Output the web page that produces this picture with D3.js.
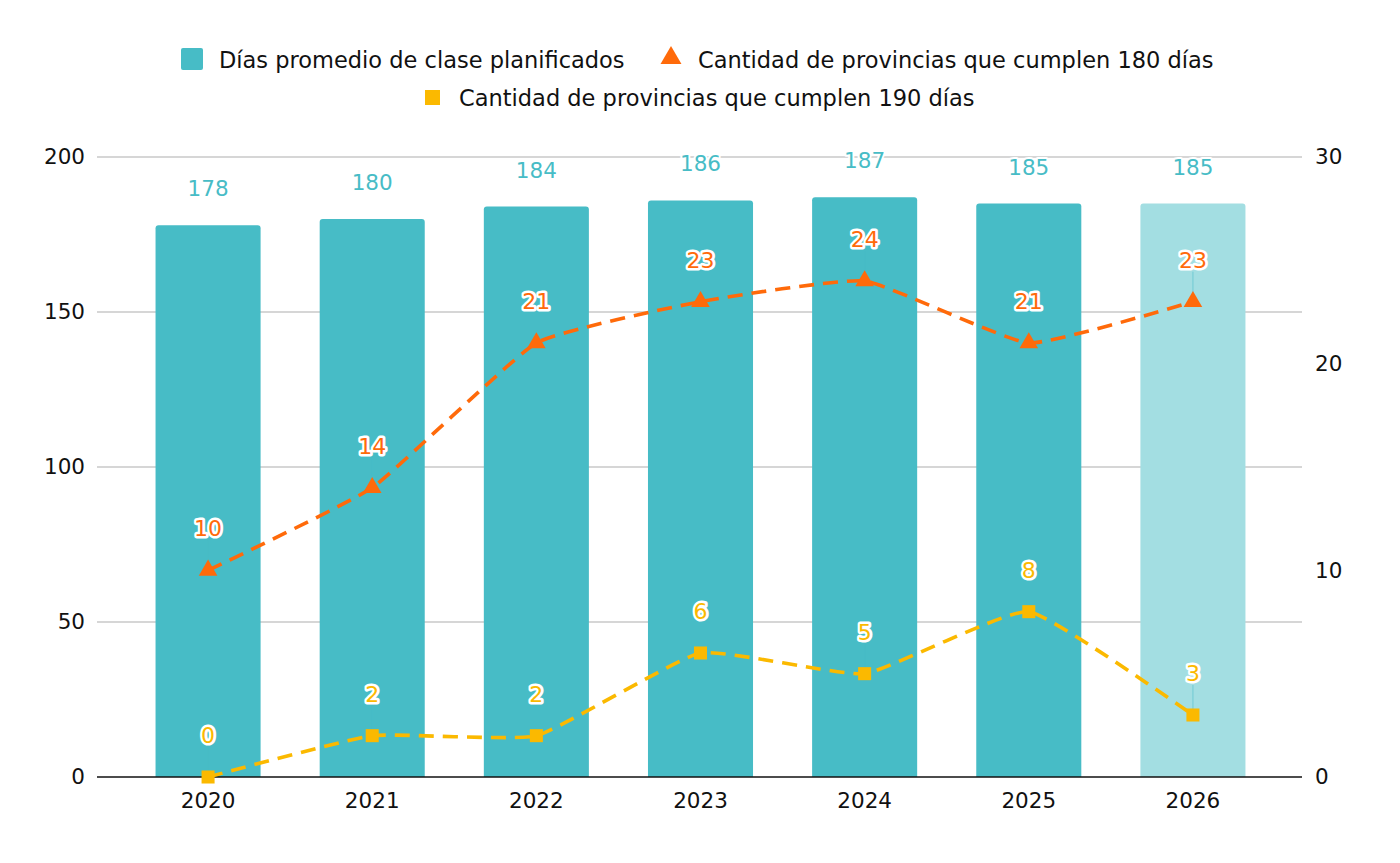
<!DOCTYPE html>
<html>
<head>
<meta charset="utf-8">
<script src="https://cdn.jsdelivr.net/npm/d3@7"></script>
<style>
  html, body { margin: 0; padding: 0; background: #fff; }
  svg { display: block; font-family: "DejaVu Sans", Verdana, sans-serif; }
</style>
</head>
<body>
<svg id="chart" width="1400" height="863"></svg>
<script>
// Días de clase planificados y provincias que cumplen 180 / 190 días
const years = ['2020', '2021', '2022', '2023', '2024', '2025', '2026'];
const diasPromedio = [178, 180, 184, 186, 187, 185, 185];
const prov180 = [10, 14, 21, 23, 24, 21, 23];
const prov190 = [0, 2, 2, 6, 5, 8, 3];
const leftTicks = [0, 50, 100, 150, 200];
const rightTicks = [0, 10, 20, 30];
const legendLabels = [
  'Días promedio de clase planificados',
  'Cantidad de provincias que cumplen 180 días',
  'Cantidad de provincias que cumplen 190 días'
];

const TEAL = '#47bcc6';
const TEAL_LIGHT = '#a3dee2';
const ORANGE = '#ff6a0a';
const YELLOW = '#fbb900';
const FS = 21.5;

const svg = d3.select('#chart');
const gridLeft = 97, gridRight = 1302;

const x = d3.scaleBand().domain(years).range([126, 1275]).paddingInner(0.36).paddingOuter(0.18);
const yLeft = d3.scaleLinear().domain([0, 200]).range([777, 157]);
const yRight = d3.scaleLinear().domain([0, 30]).range([777, 157]);

// gridlines
svg.append('g').selectAll('line').data(leftTicks.filter(d => d > 0)).join('line')
  .attr('x1', gridLeft).attr('x2', gridRight)
  .attr('y1', d => yLeft(d)).attr('y2', d => yLeft(d))
  .attr('stroke', '#c8c8c8').attr('stroke-width', 1.5);

// left axis
const leftAxis = svg.append('g').attr('transform', `translate(${gridLeft},0)`)
  .call(d3.axisLeft(yLeft).tickValues(leftTicks).tickSize(0).tickPadding(12));
leftAxis.select('.domain').remove();
leftAxis.selectAll('text').attr('font-size', FS).attr('fill', '#111').attr('font-family', 'DejaVu Sans');

// right axis
const rightAxis = svg.append('g').attr('transform', `translate(${gridRight},0)`)
  .call(d3.axisRight(yRight).tickValues(rightTicks).tickSize(0).tickPadding(13));
rightAxis.select('.domain').remove();
rightAxis.selectAll('text').attr('font-size', FS).attr('fill', '#111').attr('font-family', 'DejaVu Sans');

// bars with rounded tops
const r = 3;
function barPath(d, i) {
  const x0 = x(years[i]), w = x.bandwidth();
  const y0 = yLeft(d), y1 = yLeft(0);
  return `M${x0},${y1} L${x0},${y0 + r} Q${x0},${y0} ${x0 + r},${y0} L${x0 + w - r},${y0} Q${x0 + w},${y0} ${x0 + w},${y0 + r} L${x0 + w},${y1} Z`;
}
svg.append('g').selectAll('path').data(diasPromedio).join('path')
  .attr('d', barPath)
  .attr('fill', (d, i) => i === years.length - 1 ? TEAL_LIGHT : TEAL);

// x axis
const xAxis = svg.append('g').attr('transform', `translate(0,${yLeft(0)})`)
  .call(d3.axisBottom(x).tickSize(0).tickPadding(16));
xAxis.select('.domain').remove();
xAxis.selectAll('text').attr('font-size', FS).attr('fill', '#111').attr('font-family', 'DejaVu Sans');
svg.append('line').attr('x1', gridLeft).attr('x2', gridRight)
  .attr('y1', yLeft(0)).attr('y2', yLeft(0))
  .attr('stroke', '#111').attr('stroke-width', 1.5);

// bar value labels
svg.append('g').selectAll('text').data(diasPromedio).join('text')
  .attr('x', (d, i) => x(years[i]) + x.bandwidth() / 2)
  .attr('y', d => yLeft(d) - 29)
  .attr('text-anchor', 'middle')
  .attr('font-size', FS)
  .attr('fill', TEAL)
  .attr('stroke', '#fff').attr('stroke-width', 4).attr('stroke-linejoin', 'round')
  .attr('paint-order', 'stroke')
  .text(d => d);

const cx = i => x(years[i]) + x.bandwidth() / 2;

function drawSeries(values, color, symbolType, symSize) {
  const g = svg.append('g');
  // leader lines (only visible on the light bar)
  g.selectAll('line.lead').data(values).join('line')
    .attr('class', 'lead')
    .attr('x1', (d, i) => cx(i)).attr('x2', (d, i) => cx(i))
    .attr('y1', d => yRight(d) - 30).attr('y2', d => yRight(d) - 6)
    .attr('stroke', TEAL).attr('stroke-opacity', 0.55).attr('stroke-width', 1);
  const line = d3.line().x((d, i) => cx(i)).y(d => yRight(d)).curve(d3.curveCardinal.tension(0.6));
  g.append('path').datum(values)
    .attr('d', line)
    .attr('fill', 'none')
    .attr('stroke', color)
    .attr('stroke-width', 3.6)
    .attr('stroke-dasharray', '15 9');
  g.selectAll('path.sym').data(values).join('path')
    .attr('class', 'sym')
    .attr('transform', (d, i) => `translate(${cx(i)},${yRight(d)})`)
    .attr('d', d3.symbol().type(symbolType).size(symSize))
    .attr('fill', color);
  g.selectAll('text').data(values).join('text')
    .attr('x', (d, i) => cx(i))
    .attr('y', d => yRight(d) - 34)
    .attr('text-anchor', 'middle')
    .attr('font-size', 22)
    .attr('fill', color)
    .attr('stroke', '#fff').attr('stroke-width', 5).attr('stroke-linejoin', 'round')
    .attr('paint-order', 'stroke')
    .text(d => d);
}

drawSeries(prov190, YELLOW, d3.symbolSquare, 170);
drawSeries(prov180, ORANGE, d3.symbolTriangle, 150);

// legend
const legend = svg.append('g').attr('font-size', 22.5).attr('fill', '#111');
legend.append('rect').attr('x', 181).attr('y', 48).attr('width', 22).attr('height', 22).attr('rx', 2).attr('fill', TEAL);
legend.append('text').attr('x', 219).attr('y', 68).text(legendLabels[0]);
legend.append('path').attr('transform', 'translate(671,58)')
  .attr('d', d3.symbol().type(d3.symbolTriangle).size(190)).attr('fill', ORANGE);
legend.append('text').attr('x', 698).attr('y', 68).text(legendLabels[1]);
legend.append('rect').attr('x', 425).attr('y', 90).attr('width', 15).attr('height', 15).attr('fill', YELLOW);
legend.append('text').attr('x', 459).attr('y', 106).text(legendLabels[2]);
</script>
</body>
</html>
